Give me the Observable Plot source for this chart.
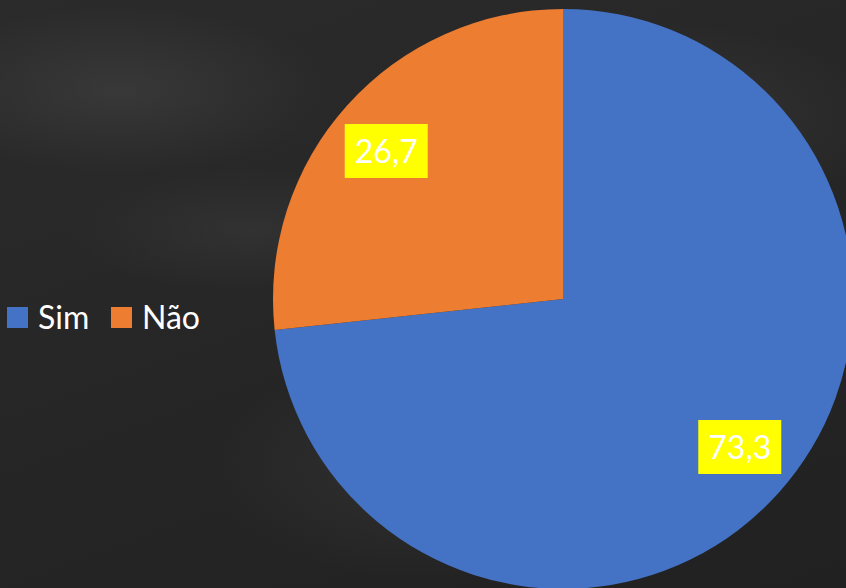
<!DOCTYPE html>
<html>
<head>
<meta charset="utf-8">
<script src="https://cdn.jsdelivr.net/npm/d3@7"></script>
<script src="https://cdn.jsdelivr.net/npm/@observablehq/plot@0.6"></script>
<style>
  html, body { margin: 0; padding: 0; }
  body {
    width: 846px; height: 588px; overflow: hidden;
    background:
      radial-gradient(ellipse 300px 120px at 120px 90px, rgba(90,90,90,0.30), transparent 70%),
      radial-gradient(ellipse 260px 90px at 250px 230px, rgba(80,80,80,0.25), transparent 70%),
      radial-gradient(ellipse 340px 140px at 650px 120px, rgba(85,85,85,0.30), transparent 70%),
      radial-gradient(ellipse 300px 160px at 420px 470px, rgba(75,75,75,0.30), transparent 70%),
      linear-gradient(160deg, #2b2b2b 0%, #262626 50%, #212121 100%);
    font-family: Lato, "Noto Sans", sans-serif;
  }
  #chart { position: absolute; left: 0; top: 0; }
</style>
</head>
<body>
<div id="chart"></div>
<script>
const categories = ["Sim", "Não"];
const values = [73.3, 26.7];
const labels = ["73,3", "26,7"];
const colors = ["#4472C4", "#ED7D31"];

const data = categories.map((c, i) => ({name: c, value: values[i], label: labels[i], color: colors[i]}));

const W = 846, H = 588;
const cx = 563, cy = 299, R = 290;

function pieMark(index, scales, channels, dimensions, context) {
  const g = d3.create("svg:g");
  const arcs = d3.pie().sort(null).value(d => d.value)(data);
  const arc = d3.arc().innerRadius(0).outerRadius(R);
  const rot = -2 * Math.PI / 180;
  const labelArc = d3.arc().innerRadius(R * 0.795).outerRadius(R * 0.795)
    .startAngle(d => d.startAngle + rot).endAngle(d => d.endAngle + rot);
  const pg = g.append("g").attr("transform", `translate(${cx},${cy})`);
  pg.selectAll("path").data(arcs).join("path")
    .attr("d", arc)
    .attr("fill", d => d.data.color);
  const lg = pg.selectAll("g.lab").data(arcs).join("g")
    .attr("class", "lab")
    .attr("transform", d => { const [x, y] = labelArc.centroid(d); return `translate(${x},${y})`; });
  lg.append("rect")
    .attr("x", -41.5).attr("y", -27).attr("width", 83).attr("height", 54)
    .attr("fill", "#FFFF00");
  lg.append("text")
    .attr("text-anchor", "middle").attr("dy", "0.36em")
    .attr("fill", "#ffffff")
    .attr("font-size", 32)
    .attr("font-family", "Lato, 'Noto Sans', sans-serif")
    .text(d => d.data.label);

  // legend
  const leg = g.append("g").attr("transform", "translate(7,307)");
  let x = 0;
  data.forEach(d => {
    leg.append("rect").attr("x", x).attr("y", 0).attr("width", 21).attr("height", 21).attr("fill", d.color);
    leg.append("text").attr("x", x + 31).attr("y", 10.5).attr("dy", "0.36em")
      .attr("text-anchor", "start")
      .attr("fill", "#ffffff").attr("font-size", 32)
      .attr("font-family", "Lato, 'Noto Sans', sans-serif")
      .text(d.name);
    x += 104;
  });
  return g.node();
}

const chart = Plot.plot({
  width: W,
  height: H,
  margin: 0,
  style: {background: "transparent", overflow: "hidden"},
  marks: [pieMark]
});
document.getElementById("chart").appendChild(chart);
</script>
</body>
</html>
